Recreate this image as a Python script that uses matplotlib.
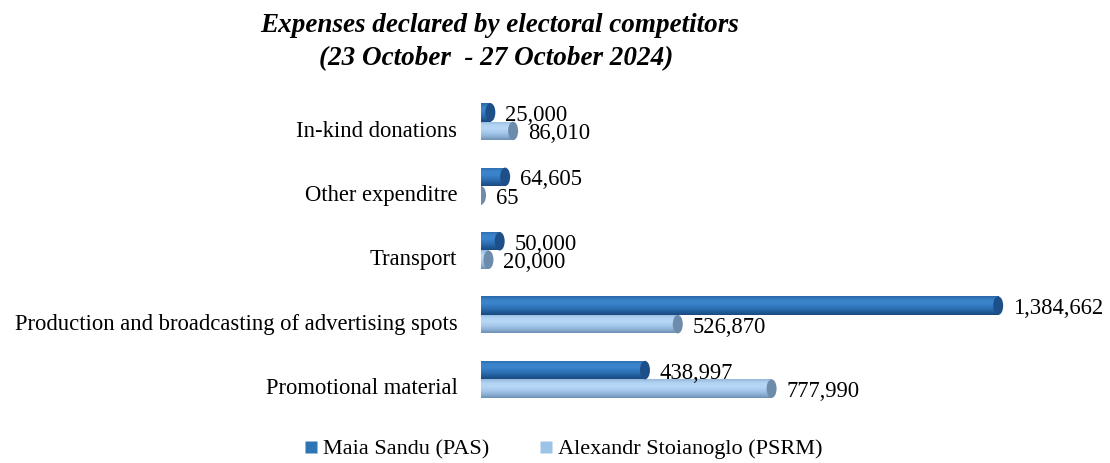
import matplotlib
matplotlib.use("Agg")
import matplotlib.pyplot as plt
import numpy as np
from matplotlib.colors import LinearSegmentedColormap
from matplotlib.patches import Ellipse
from matplotlib.lines import Line2D

categories = ["Promotional material",
              "Production and broadcasting of advertising spots",
              "Transport",
              "Other expenditre",
              "In-kind donations"]
sandu = [438997, 1384662, 50000, 64605, 25000]
stoianoglo = [777990, 526870, 20000, 65, 86010]
series_names = ["Maia Sandu (PAS)", "Alexandr Stoianoglo (PSRM)"]
title_lines = ["Expenses declared by electoral competitors",
               "(23 October  - 27 October 2024)"]

FONT = "Liberation Serif"
W, H = 1110, 463
fig = plt.figure(figsize=(W / 100, H / 100), dpi=100)
xmax = 1.6e6
k = 3.735e-4  # px per unit
ax_left, ax_right = 481 / W, (481 + xmax * k) / W
ax_bottom, ax_top = (H - 425) / H, (H - 90) / H
ax = fig.add_axes([ax_left, ax_bottom, ax_right - ax_left, ax_top - ax_bottom])

ymin, ymax = -0.6, 4.6
ax.set_xlim(0, xmax)
ax.set_ylim(ymin, ymax)

px_per_x = (ax_right - ax_left) * W / xmax
px_per_y = (ax_top - ax_bottom) * H / (ymax - ymin)

bh = 18.5 / px_per_y
off = 7 / px_per_y
y = np.arange(len(categories))

# gradients listed bottom -> top
dark_cmap = LinearSegmentedColormap.from_list(
    "d", ["#1a4a80", "#23609f", "#2f74bb", "#3b84cc", "#3a82ca", "#2a68a8"])
light_cmap = LinearSegmentedColormap.from_list(
    "l", ["#6e8fb2", "#8fb3d8", "#a6c9ec", "#b6d7f5", "#b2d4f3", "#95b9dc"])
cap_colors = ["#1d4f88", "#6d8cab"]
base_colors = ["#2e75b6", "#9dc3e6"]
grad = np.linspace(0, 1, 64).reshape(-1, 1)

cap_w = 10 / px_per_x

def draw_series(vals, centers, cmap, base, capc):
    bars = ax.barh(centers, vals, height=bh, color=base, zorder=2)
    for b, v, c in zip(bars, vals, centers):
        im = ax.imshow(grad, cmap=cmap, aspect="auto",
                       extent=[0, v, c - bh / 2, c + bh / 2],
                       origin="lower", zorder=3, interpolation="bilinear")
        im.set_clip_path(b)
        e = Ellipse((v, c), width=cap_w, height=bh, facecolor=capc,
                    edgecolor="none", zorder=4)
        ax.add_patch(e)
    return bars

sandu_c = y + off + bh / 2
stoi_c = y + off - bh / 2
draw_series(sandu, sandu_c, dark_cmap, base_colors[0], cap_colors[0])
draw_series(stoianoglo, stoi_c, light_cmap, base_colors[1], cap_colors[1])
ax.set_xlim(0, xmax)
ax.set_ylim(ymin, ymax)

lab_fs = 16.3
for vals, cs in ((sandu, sandu_c), (stoianoglo, stoi_c)):
    for v, c in zip(vals, cs):
        ax.text(v + 15 / px_per_x, c - 3 / px_per_y, f"{v:,}", va="center", ha="left",
                fontsize=lab_fs, family=FONT, color="black", zorder=5)

ax.set_yticks(y)
ax.set_yticklabels(categories, fontsize=lab_fs, family=FONT)
ax.tick_params(axis="y", length=0, pad=17)
ax.set_xticks([])
for s in ax.spines.values():
    s.set_visible(False)

fig.text(500 / W, 1 - 26 / H, title_lines[0], ha="center", va="center", fontsize=19.5,
         family=FONT, style="italic", weight="bold")
fig.text(496 / W, 1 - 59 / H, title_lines[1], ha="center", va="center", fontsize=19.5,
         family=FONT, style="italic", weight="bold")

handles = [Line2D([], [], marker="s", linestyle="none", markersize=8.5,
                  markerfacecolor=base_colors[0], markeredgecolor="none"),
           Line2D([], [], marker="s", linestyle="none", markersize=8.5,
                  markerfacecolor=base_colors[1], markeredgecolor="none")]
fig.legend(handles, series_names, loc="center", bbox_to_anchor=(563 / W, 1 - 449 / H),
           ncol=2, frameon=False, prop={"family": FONT, "size": 16},
           handletextpad=0.18, columnspacing=2.2, handlelength=0.7)

fig.savefig("out.png", dpi=100)
